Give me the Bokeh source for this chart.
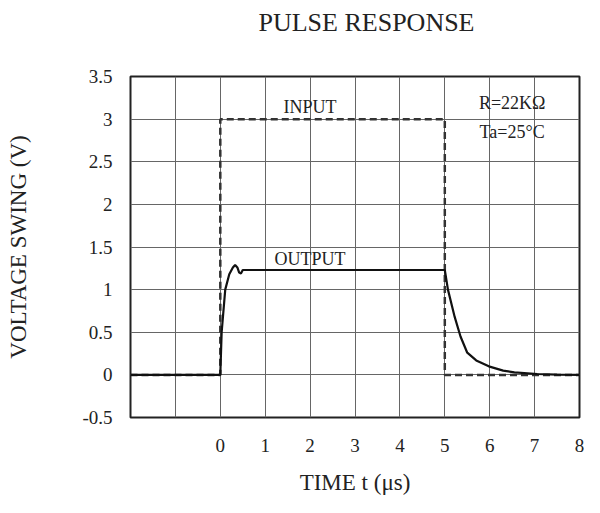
from bokeh.plotting import figure
from bokeh.models import Range1d, FixedTicker, Title
from bokeh.core.properties import value
from bokeh.embed import file_html
from bokeh.resources import INLINE

# ---- data ----
input_t = [-2, 0, 0, 5, 5, 8]
input_v = [0, 0, 3, 3, 0, 0]

output_t = [-2, 0, 0.03, 0.11, 0.2, 0.28, 0.33, 0.38, 0.42, 0.46, 0.5,
            5.0, 5.07, 5.22, 5.35, 5.5, 5.7, 5.98, 6.3, 6.55, 7.06, 7.5, 8]
output_v = [0, 0, 0.5, 1.0, 1.18, 1.26, 1.29, 1.26, 1.2, 1.19, 1.23,
            1.23, 1.0, 0.68, 0.45, 0.26, 0.17, 0.1, 0.05, 0.03, 0.01, 0.003, 0]

x_ticks = [0, 1, 2, 3, 4, 5, 6, 7, 8]
x_grid = [-2, -1, 0, 1, 2, 3, 4, 5, 6, 7, 8]
y_ticks = [-0.5, 0, 0.5, 1, 1.5, 2, 2.5, 3, 3.5]
y_tick_labels = {-0.5: "-0.5", 0: "0", 0.5: "0.5", 1: "1", 1.5: "1.5",
                 2: "2", 2.5: "2.5", 3: "3", 3.5: "3.5"}

note_x = [2.0, 2.0, 6.5, 6.5]
note_y = [3.14, 1.36, 3.19, 2.85]
note_text = ["INPUT", "OUTPUT", "R=22K\u03a9", "Ta=25\u00b0C"]

title_text = "PULSE RESPONSE"

FONT = "Liberation Serif"

p = figure(width=584, height=497, x_range=Range1d(-2, 8), y_range=Range1d(-0.5, 3.5),
           output_backend="svg", toolbar_location=None, title=None,
           min_border_left=130, min_border_right=5, min_border_top=76, min_border_bottom=80)

# spacer (closest to the frame) then the visible title above it
spacer = Title(text=" ", text_font=FONT, text_font_size="32px", vertical_align="top", standoff=0)
main_title = Title(text=title_text, align="left", offset=128, vertical_align="top", standoff=0,
                   text_font=FONT, text_font_size="26px", text_font_style="normal",
                   text_color="#222222")
p.add_layout(spacer, "above")
p.add_layout(main_title, "above")

p.outline_line_color = "#222222"
p.outline_line_width = 2
p.background_fill_color = "white"
p.border_fill_color = "white"

p.xaxis.ticker = FixedTicker(ticks=x_ticks)
p.yaxis.ticker = FixedTicker(ticks=y_ticks)
p.yaxis.major_label_overrides = y_tick_labels
p.xgrid.ticker = FixedTicker(ticks=x_grid)
p.ygrid.ticker = FixedTicker(ticks=y_ticks)
for g in (p.xgrid, p.ygrid):
    g.grid_line_color = "#666666"
    g.grid_line_width = 1
    g.grid_line_alpha = 1

for ax in (p.xaxis, p.yaxis):
    ax.axis_line_color = None
    ax.major_tick_line_color = None
    ax.minor_tick_line_color = None
    ax.major_label_text_font = FONT
    ax.major_label_text_font_size = "19px"
    ax.major_label_text_color = "#222222"
    ax.axis_label_text_font = FONT
    ax.axis_label_text_font_size = "23px"
    ax.axis_label_text_font_style = "normal"
    ax.axis_label_text_color = "#222222"

p.xaxis.axis_label = "TIME t (\u03bcs)"
p.yaxis.axis_label = "VOLTAGE SWING (V)"
p.xaxis.major_label_standoff = 15
p.xaxis.axis_label_standoff = 15
p.yaxis.major_label_standoff = 12
p.yaxis.axis_label_standoff = 48

p.line(input_t, input_v, line_color="#333333", line_width=2.5, line_dash="7 4")
p.line(output_t, output_v, line_color="#111111", line_width=2.2)

p.text(note_x, note_y, text=note_text, text_font=value(FONT), text_font_size="18px",
       text_align="center", text_baseline="middle", text_color="#222222")

open("out.html", "w").write(file_html(p, INLINE))
